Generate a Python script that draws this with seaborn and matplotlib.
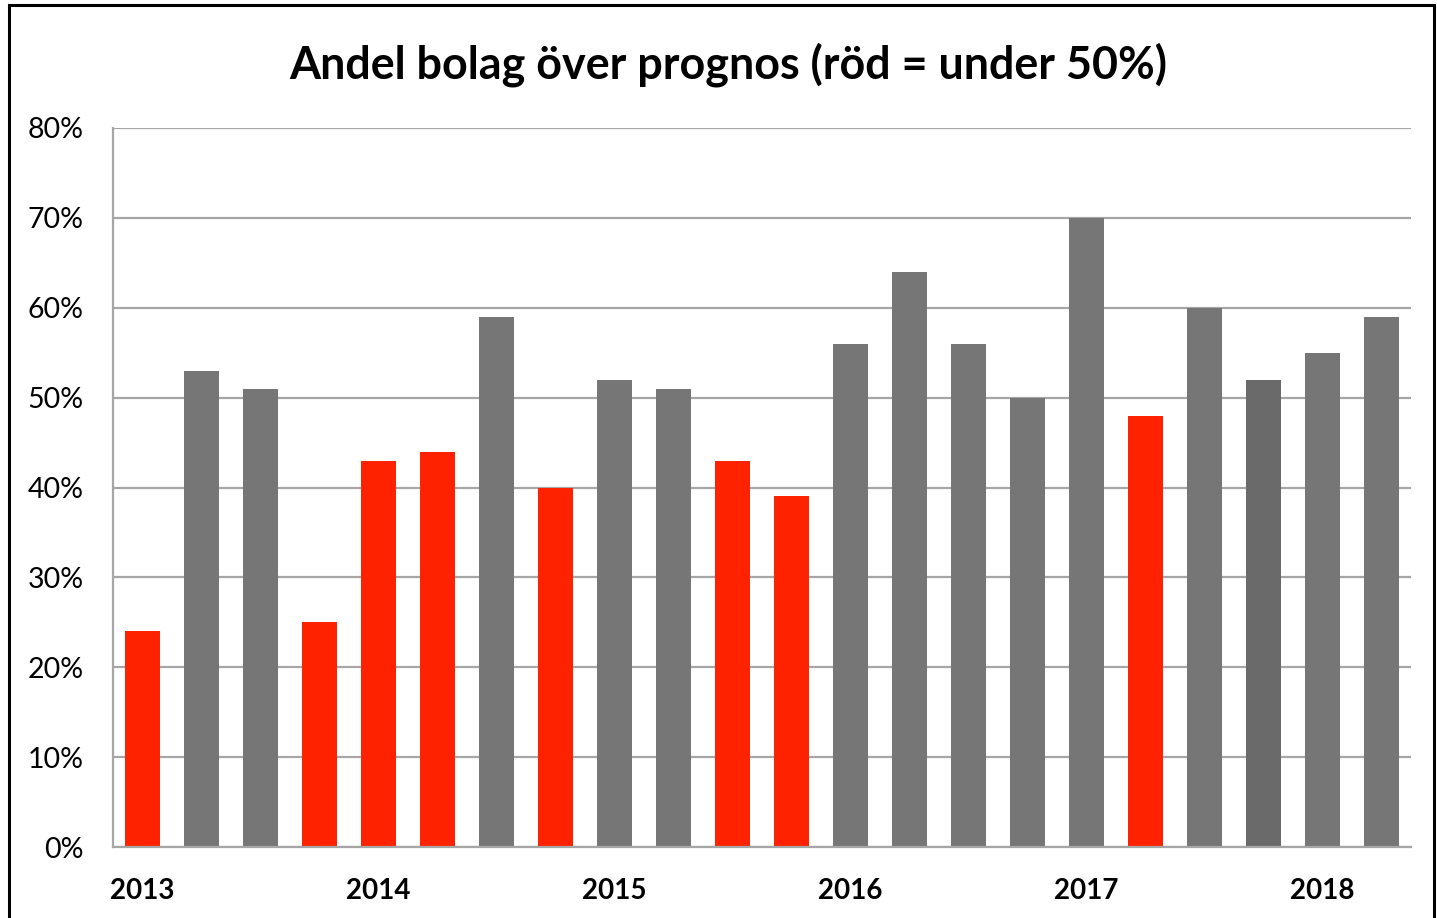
import matplotlib
matplotlib.use("Agg")
import matplotlib.pyplot as plt
import seaborn as sns
import pandas as pd
from matplotlib.patches import Rectangle
from matplotlib.ticker import FuncFormatter

quarters = [f"{y} Q{q}" for y in range(2013, 2019) for q in range(1, 5)][:22]
values = [24, 53, 51, 25, 43, 44, 59, 40, 52, 51, 43, 39,
          56, 64, 56, 50, 70, 48, 60, 52, 55, 59]
year_labels = ["2013", "2014", "2015", "2016", "2017", "2018"]

RED = "#ff2200"
GREY = "#767676"
DARK = "#6a6a6a"
colors = [RED if v < 50 else GREY for v in values]
colors[19] = DARK

df = pd.DataFrame({"quarter": quarters, "value": values})

sns.set_theme(style="white")
plt.rcParams["font.family"] = ["Lato", "DejaVu Sans"]
plt.rcParams["text.color"] = "black"

fig = plt.figure(figsize=(14.37, 9.18), dpi=100)
ax = fig.add_axes([113/1437, 1-847/918, (1411-113)/1437, (847-128)/918])

sns.barplot(data=df, x="quarter", y="value", hue="quarter", palette=colors,
            dodge=False, legend=False, width=0.58, saturation=1, ax=ax,
            order=quarters, hue_order=quarters, linewidth=0)

ax.set_ylim(0, 80)
ax.set_xlim(-0.5, len(quarters) - 0.5)
ax.set_yticks(range(0, 81, 10))
ax.yaxis.set_major_formatter(FuncFormatter(lambda v, p: f"{int(v)}%"))
ax.set_xticks(range(0, len(quarters), 4))
ax.set_xticklabels(year_labels, fontweight="bold")
ax.tick_params(axis="y", labelsize=20.5, pad=21, length=0, colors="black")
ax.tick_params(axis="x", labelsize=20, pad=22, length=0, colors="black")
ax.set_xlabel("")
ax.set_ylabel("")
ax.grid(axis="y", color="#a6a6a6", linewidth=1.6)
ax.set_axisbelow(True)
for s in ["top", "right"]:
    ax.spines[s].set_visible(False)
for s in ["left", "bottom"]:
    ax.spines[s].set_color("#a6a6a6")
    ax.spines[s].set_linewidth(1.6)

fig.text(728/1437, 1-65/918, "Andel bolag över prognos (röd = under 50%)",
         ha="center", va="center", fontsize=32.3, fontweight="bold", color="black")

fig.patches.append(Rectangle((9/1437, -0.05), (1434-9)/1437, 1.05 - 5/918,
                             transform=fig.transFigure, fill=False,
                             edgecolor="black", linewidth=2.2))

fig.savefig("out.png", dpi=100)
